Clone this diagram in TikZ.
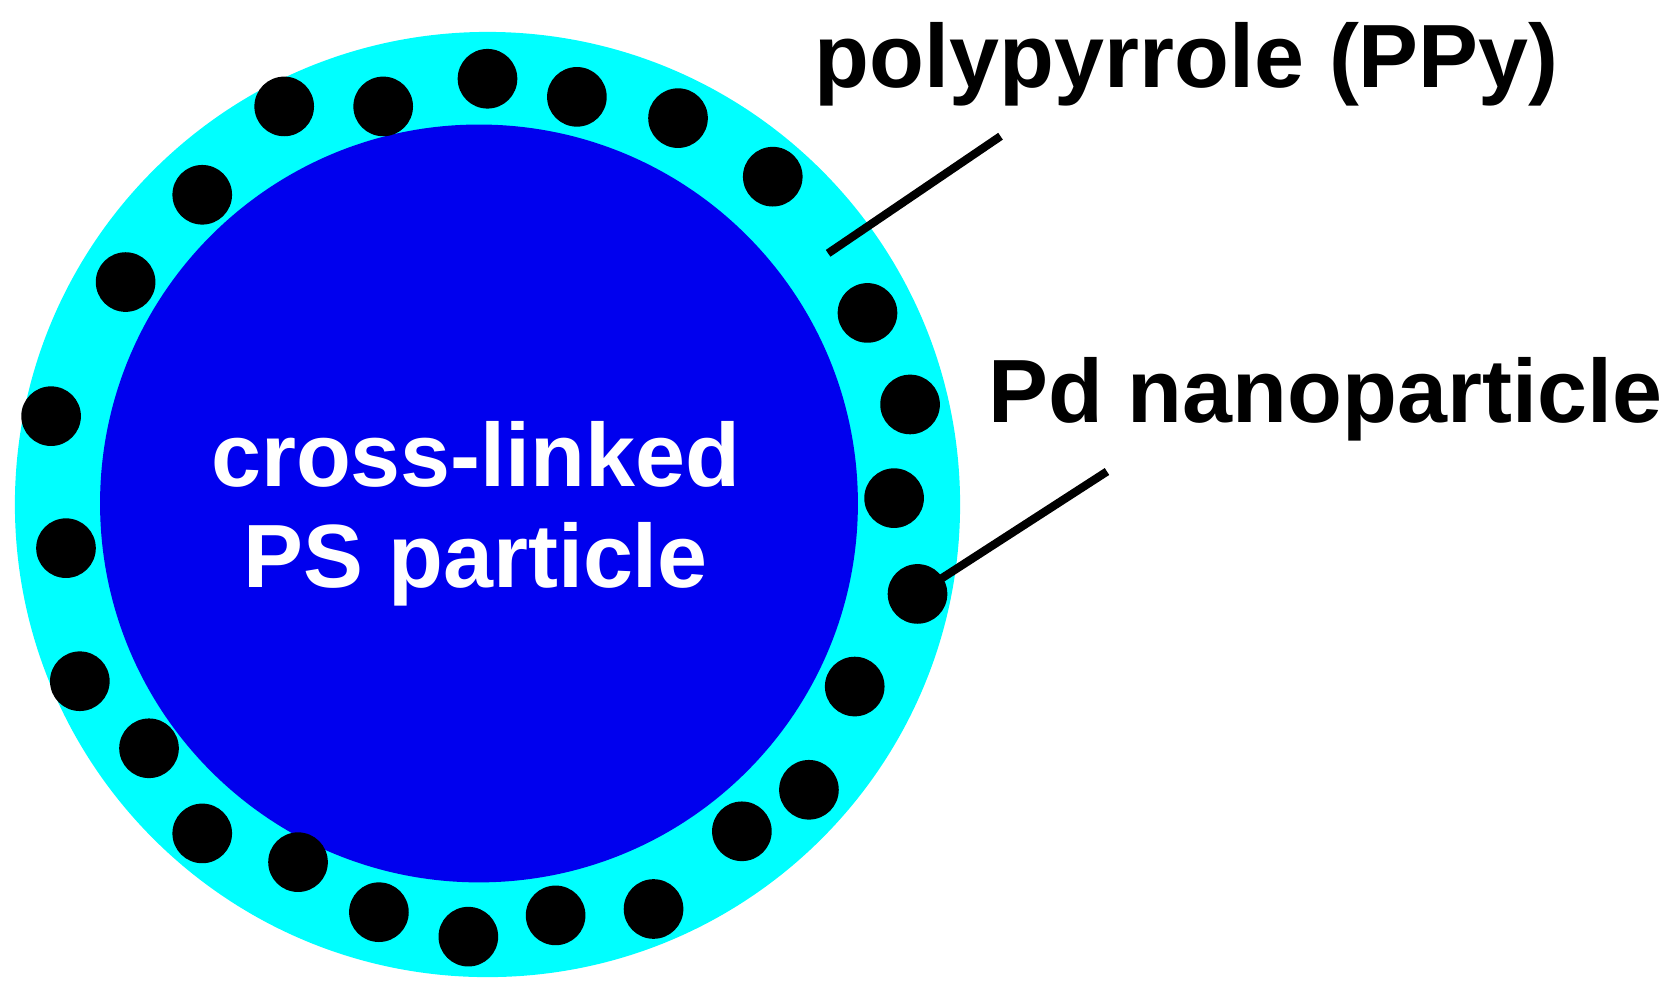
\documentclass[tikz,border=0pt]{standalone}
\usepackage{fontspec}
\setmainfont{Liberation Sans}
\definecolor{shell}{RGB}{0,255,255}
\definecolor{core}{RGB}{0,0,238}
\begin{document}
\begin{tikzpicture}[x=0.01cm,y=-0.01cm,
  dot/.style={circle,fill=black,minimum size=0.56cm,inner sep=0pt},
  lbl/.style={font=\bfseries\fontsize{24}{28}\selectfont},
  lead/.style={line width=2.2pt}]
\useasboundingbox (0,0) rectangle (1568,928);
\fill[shell] (458,474) circle (444);
\fill[core] (450,473) circle (356);
\foreach \x/\y [count=\i] in {267/100,360/100,458/74,542/91,637/111,726/166,190/183,118/265,815/294,48/391,855/380,62/515,840/468,862/558,75/640,803/645,140/703,760/742,190/783,697/781,280/810,356/857,440/880,522/860,614/854}
  \node[dot] (d\i) at (\x,\y) {};
\node[text=white,align=center,font=\bfseries\fontsize{24}{27}\selectfont] (corelbl) at (447,483) {cross-linked\\PS particle};
\node[lbl] (ppy) at (1115,60) {polypyrrole (PPy)};
\node[lbl] (pd) at (1245,375) {Pd nanoparticle};
\coordinate (a1) at (778,238); \coordinate (a2) at (940,128);
\coordinate (b2) at (1040,443);
\draw[lead] (a1) -- (a2);
\draw[lead] (d14.center) -- (b2);
\end{tikzpicture}
\end{document}
